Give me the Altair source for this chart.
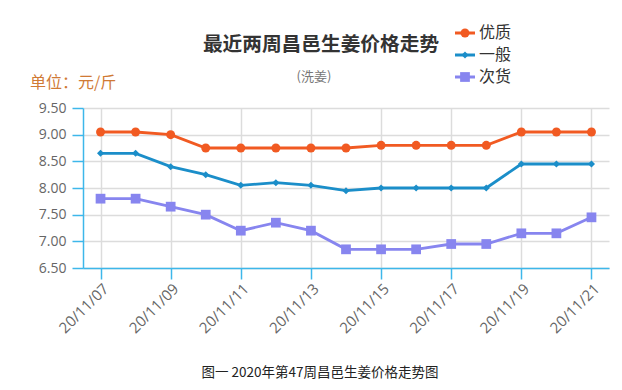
import altair as alt
import pandas as pd

dates = ["20/11/07", "20/11/08", "20/11/09", "20/11/10", "20/11/11", "20/11/12", "20/11/13",
         "20/11/14", "20/11/15", "20/11/16", "20/11/17", "20/11/18", "20/11/19", "20/11/20", "20/11/21"]
tick_dates = dates[::2]
series_names = ["优质", "一般", "次货"]
premium = [9.05, 9.05, 9.00, 8.75, 8.75, 8.75, 8.75, 8.75, 8.80, 8.80, 8.80, 8.80, 9.05, 9.05, 9.05]
ordinary = [8.65, 8.65, 8.40, 8.25, 8.05, 8.10, 8.05, 7.95, 8.00, 8.00, 8.00, 8.00, 8.45, 8.45, 8.45]
inferior = [7.80, 7.80, 7.65, 7.50, 7.20, 7.35, 7.20, 6.85, 6.85, 6.85, 6.95, 6.95, 7.15, 7.15, 7.45]
y_ticks = [6.5, 7.0, 7.5, 8.0, 8.5, 9.0, 9.5]

colors = ["#f15a22", "#1b8ec9", "#8785ef"]
shapes = ["circle", "diamond", "square"]
sizes = [80, 50, 95]

W, H = 526, 160
CJK = "Noto Sans CJK SC"
AXIS_BLUE = "#3db7ea"

rows = []
for name, vals in zip(series_names, [premium, ordinary, inferior]):
    for d, v in zip(dates, vals):
        rows.append({"date": d, "price": v, "series": name})
df = pd.DataFrame(rows)

x_enc = alt.X("date:O", sort=dates,
              scale=alt.Scale(type="point", padding=0.5),
              axis=alt.Axis(values=tick_dates, labelAngle=-45, title=None,
                            labelColor="#666", labelFont="Open Sans", labelFontSize=15,
                            domainColor=AXIS_BLUE, domainWidth=1.5, tickColor=AXIS_BLUE,
                            tickWidth=1.5, tickSize=11, labelPadding=2,
                            grid=True, gridColor="#dcdcdc", gridWidth=1.5))
y_enc = alt.Y("price:Q", scale=alt.Scale(domain=[6.5, 9.5], nice=False, zero=False),
              axis=alt.Axis(values=y_ticks, format=".2f", title=None,
                            labelColor="#666", labelFont="Open Sans", labelFontSize=14,
                            domainColor=AXIS_BLUE, domainWidth=1.5, tickColor=AXIS_BLUE,
                            tickWidth=1.5, tickSize=11, labelPadding=6,
                            grid=True, gridColor="#dcdcdc", gridWidth=1.5))

layers = []
for name, col, shp, sz in zip(series_names, colors, shapes, sizes):
    sub = df[df.series == name]
    base = alt.Chart(sub)
    layers.append(base.mark_line(color=col, strokeWidth=2.8).encode(x=x_enc, y=y_enc))
    layers.append(base.mark_point(color=col, filled=True, opacity=1, shape=shp, size=sz)
                  .encode(x=x_enc, y=y_enc))

one = pd.DataFrame({"k": [0]})

def txt(text, x, y, size, color, weight="normal", align="center"):
    return alt.Chart(one).mark_text(text=text, fontSize=size, color=color, font=CJK,
                                    fontWeight=weight, align=align, baseline="middle").encode(
        x=alt.value(x), y=alt.value(y))

ox, oy = 83, 108
layers.append(txt("最近两周昌邑生姜价格走势", 321 - ox, 45 - oy, 19.7, "#333", weight="bold"))
layers.append(txt("(洗姜)", 314 - ox, 77 - oy, 13, "#777"))
layers.append(txt("单位：元/斤", 30 - ox, 83 - oy, 16, "#d07a35", align="left"))
layers.append(txt("图一 2020年第47周昌邑生姜价格走势图", 320 - ox, 373 - oy, 13.5, "#222"))

legend_y = [33, 55, 77]
for name, col, shp, sz, ly in zip(series_names, colors, shapes, sizes, legend_y):
    layers.append(alt.Chart(one).mark_rule(color=col, strokeWidth=3).encode(
        x=alt.value(455 - ox), x2=alt.value(475 - ox), y=alt.value(ly - oy)))
    layers.append(alt.Chart(one).mark_point(color=col, filled=True, opacity=1, shape=shp, size=sz).encode(
        x=alt.value(465 - ox), y=alt.value(ly - oy)))
    layers.append(txt(name, 479 - ox, ly - oy, 16, "#333", align="left"))

chart = alt.layer(*layers).properties(
    width=W, height=H,
    autosize=alt.AutoSizeParams(type="none"),
    padding={"left": 75, "top": 100, "right": 5, "bottom": 114},
    background="white",
).configure_view(stroke=None)

chart.save("out.html", embed_options={"renderer": "svg", "actions": False})
